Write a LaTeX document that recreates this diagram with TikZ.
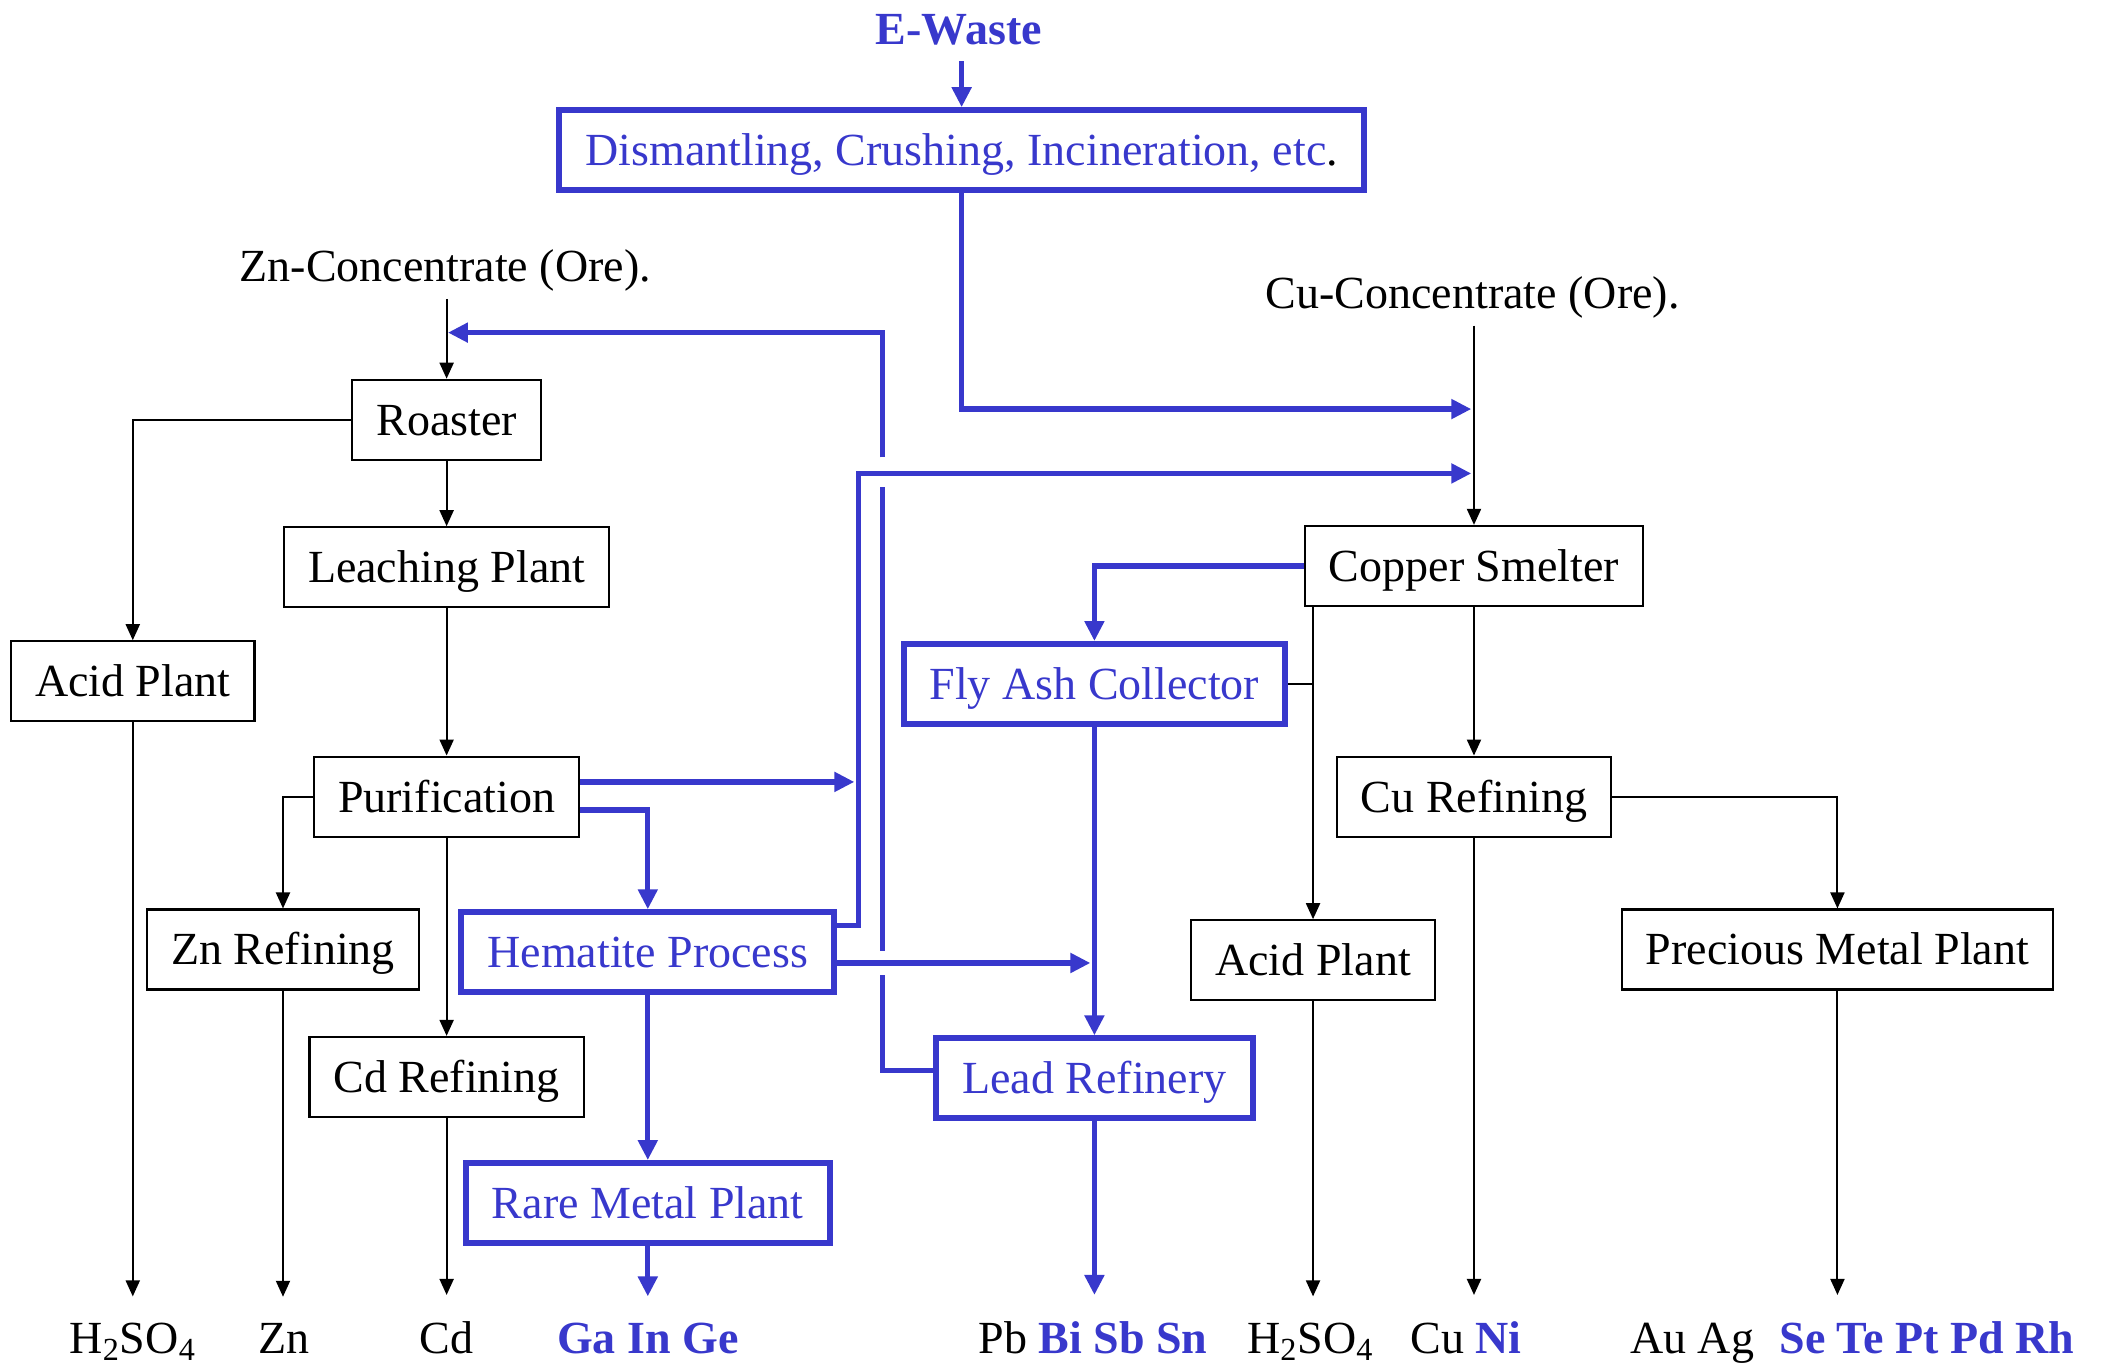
\documentclass[tikz,border=0pt]{standalone}
\usepackage{fontspec}
\setmainfont{Liberation Serif}
\usetikzlibrary{arrows.meta}
\definecolor{ewblue}{RGB}{56,56,204}

\begin{document}
\begin{tikzpicture}[x=0.6706pt, y=-0.6706pt, every node/.style={font=\fontsize{23}{27}\selectfont},
	box/.style={draw, line width=1.1pt, inner xsep=12pt, minimum height=40pt, text height=15.4pt, text depth=0pt},
	bbox/.style={draw=ewblue, text=ewblue, line width=3pt, inner xsep=13pt, minimum height=40pt, text height=15.4pt, text depth=0pt},
	bold/.style={text=ewblue, font=\fontsize{23}{27}\selectfont\bfseries},
	prod/.style={anchor=base, inner ysep=13pt},
	link/.style={line width=1pt},
	arr/.style={link, -{Triangle[length=8pt, width=7pt]}},
	bline/.style={ewblue, line width=2.6pt},
	barr/.style={bline, -{Triangle[length=10pt, width=9.5pt]}}]
	\useasboundingbox (0,0) rectangle (1568,1018);
	% inputs
	\node[bold, inner ysep=8pt] (ewaste) at (715,22) {E-Waste};
	\node[bbox] (dismantle) at (717,112) {Dismantling, Crushing, Incineration, etc{\color{black}.}};
	\node (znore) at (332,202) {Zn-Concentrate (Ore).};
	\node (cuore) at (1098,222) {Cu-Concentrate (Ore).};
	% zinc side
	\node[box] (roaster) at (333,313) {Roaster};
	\node[box] (leach) at (333,423) {Leaching Plant};
	\node[box] (acidL) at (99,508) {Acid Plant};
	\node[box] (purif) at (333,594) {Purification};
	\node[box] (znref) at (211,708) {Zn Refining};
	\node[box] (cdref) at (333,803) {Cd Refining};
	\node[bbox] (hematite) at (483,710) {Hematite Process};
	\node[bbox] (raremetal) at (483,897) {Rare Metal Plant};
	% copper side
	\node[box] (smelter) at (1099,422) {Copper Smelter};
	\node[box] (curef) at (1099,594) {Cu Refining};
	\node[box] (acidR) at (979,716) {Acid Plant};
	\node[box] (precious) at (1370,708) {Precious Metal Plant};
	\node[bbox] (flyash) at (816,510) {Fly Ash Collector};
	\node[bbox] (lead) at (816,804) {Lead Refinery};
	% products
	\node[prod] (h2so4L) at (99,1009) {H\textsubscript{2}SO\textsubscript{4}};
	\node[prod] (zn) at (212,1009) {Zn};
	\node[prod] (cd) at (333,1009) {Cd};
	\node[prod, bold] (gainge) at (483,1009) {Ga In Ge};
	\node[prod] (pbbi) at (815,1009) {Pb \textcolor{ewblue}{\textbf{Bi Sb Sn}}};
	\node[prod] (h2so4R) at (977,1009) {H\textsubscript{2}SO\textsubscript{4}};
	\node[prod] (cuni) at (1093,1009) {Cu \textcolor{ewblue}{\textbf{Ni}}};
	\node[prod] (auag) at (1381,1009) {Au Ag\hspace{0.3em} \textcolor{ewblue}{\textbf{Se Te Pt Pd Rh}}};
	% junctions
	\coordinate (znin) at (334,248);
	\coordinate (cuA) at (1097,305);
	\coordinate (cuB) at (1097,353);
	\coordinate (riser) at (640,353);
	\coordinate (purin) at (637,583);
	\coordinate (leadin) at (813,718);
	\coordinate (ret) at (658,248);
	% black flows
	\draw[arr] (roaster |- znore.south) -- (roaster);
	\draw[arr] (roaster.west) -| (acidL);
	\draw[arr] (roaster) -- (leach);
	\draw[arr] (leach) -- (purif);
	\draw[arr] (purif.west) -| (znref);
	\draw[arr] (purif) -- (cdref);
	\draw[arr] (acidL) -- (acidL |- h2so4L.north);
	\draw[arr] (znref) -- (znref |- zn.north);
	\draw[arr] (cdref) -- (cdref |- cd.north);
	\draw[arr] (smelter |- cuore.south) -- (smelter);
	\draw[arr] (smelter) -- (curef);
	\draw[arr] (smelter.south -| acidR) -- (acidR);
	\draw[link] (flyash.east) -- (flyash.east -| acidR);
	\draw[arr] (curef.east) -| (precious);
	\draw[arr] (curef) -- (curef |- cuni.north);
	\draw[arr] (acidR) -- (acidR |- h2so4R.north);
	\draw[arr] (precious) -- (precious |- auag.north);
	% e-waste flows
	\draw[barr] (dismantle |- ewaste.south) -- (dismantle);
	\draw[barr] (dismantle) |- (cuA);
	\draw[barr] (hematite.east |- 0,690) -| (riser) -- (cuB);
	\draw[barr] (purif.east |- 0,583) -- (purin);
	\draw[barr] (purif.east |- 0,604) -| (hematite);
	\draw[barr] (hematite.east |- 0,718) -- (leadin);
	\draw[barr] (smelter.west) -| (flyash);
	\draw[barr] (flyash) -- (lead);
	\draw[barr] (hematite) -- (raremetal);
	\draw[barr] (raremetal) -- (raremetal |- gainge.north);
	\draw[barr] (lead) -- (lead |- pbbi.north);
	% return to roaster, broken where it crosses
	\draw[bline] (lead.west |- 0,798) -| (ret |- 0,727);
	\draw[bline] (ret |- 0,709) -- (ret |- 0,363);
	\draw[barr] (ret |- 0,341) -- (ret) -- (znin);
\end{tikzpicture}
\end{document}
